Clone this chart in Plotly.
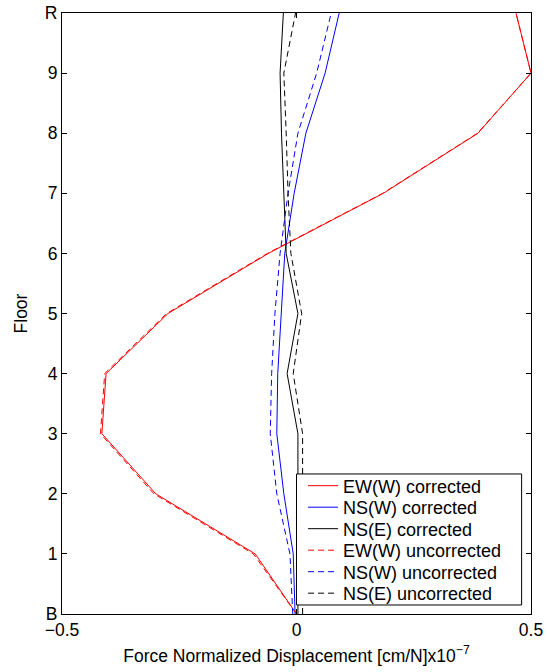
import plotly.graph_objects as go

# Floor levels (basement to roof) and their tick labels
floors = [0, 1, 2, 3, 4, 5, 6, 7, 8, 9, 10]
floor_labels = ["B", "1", "2", "3", "4", "5", "6", "7", "8", "9", "R"]

# Force-normalized displacement profiles, [cm/N] x 1e-7
ew_w_corrected = [0.0, -0.088, -0.300, -0.415, -0.406, -0.274, -0.060, 0.185, 0.387, 0.500, 0.468]
ns_w_corrected = [-0.003, -0.007, -0.027, -0.042, -0.040, -0.033, -0.025, -0.005, 0.020, 0.061, 0.091]
ns_e_corrected = [0.003, 0.003, 0.003, 0.003, -0.020, 0.003, -0.022, -0.027, -0.032, -0.035, -0.028]
ew_w_uncorrected = [0.0, -0.092, -0.304, -0.418, -0.409, -0.277, -0.062, 0.184, 0.386, 0.500, 0.468]
ns_w_uncorrected = [-0.008, -0.014, -0.042, -0.056, -0.053, -0.046, -0.035, -0.018, 0.003, 0.043, 0.074]
ns_e_uncorrected = [0.013, 0.013, 0.013, 0.013, -0.007, 0.011, -0.012, -0.018, -0.022, -0.027, -0.002]

series = [
    ("EW(W) corrected", ew_w_corrected, "#ff0000", "solid"),
    ("NS(W) corrected", ns_w_corrected, "#0000ff", "solid"),
    ("NS(E) corrected", ns_e_corrected, "#000000", "solid"),
    ("EW(W) uncorrected", ew_w_uncorrected, "#ff0000", "6px,4px"),
    ("NS(W) uncorrected", ns_w_uncorrected, "#0000ff", "6px,4px"),
    ("NS(E) uncorrected", ns_e_uncorrected, "#000000", "6px,4px"),
]

FONT = "Liberation Sans, Arial, Helvetica, sans-serif"

fig = go.Figure()
legend_ids = ["legend", "legend2", "legend3", "legend4", "legend5", "legend6"]
for (name, xs, color, dash), lg in zip(series, legend_ids):
    fig.add_trace(go.Scatter(
        x=xs, y=floors, mode="lines", name=name, showlegend=True,
        line=dict(color=color, width=1, dash=dash),
        legend=lg,
    ))

# Legend box (opaque, framed) with one row per series
box_x0, box_x1 = 0.500, 0.980
box_y0, box_y1 = 0.015, 0.233
fig.add_shape(type="rect", xref="paper", yref="paper",
              x0=box_x0, x1=box_x1, y0=box_y0, y1=box_y1,
              fillcolor="white", line=dict(color="black", width=1), layer="above")

row_top = 0.213
row_step = 21.5 / 601
legend_layouts = {}
for i, lg in enumerate(legend_ids):
    legend_layouts[lg] = dict(
        x=box_x0 + 0.014, xanchor="left",
        y=row_top - i * row_step, yanchor="middle",
        bgcolor="rgba(0,0,0,0)", borderwidth=0,
        font=dict(family=FONT, size=18, color="black"),
    )

fig.update_layout(
    width=547, height=672,
    margin=dict(l=62, r=16, t=13, b=58, autoexpand=False),
    showlegend=True,
    paper_bgcolor="white", plot_bgcolor="white",
    font=dict(family=FONT, size=17.5, color="black"),
    xaxis=dict(
        range=[-0.5, 0.5], tickvals=[-0.5, 0, 0.5], ticktext=["\u22120.5", "0", "0.5"],
        ticks="inside", ticklen=5, tickcolor="black", showgrid=False, zeroline=False,
        showline=True, linecolor="black", linewidth=1, mirror="ticks",
        title=dict(text="Force Normalized Displacement [cm/N]x10<sup>\u22127</sup>",
                   standoff=10, font=dict(size=17.5)),
    ),
    yaxis=dict(
        range=[0, 10], tickvals=floors, ticktext=floor_labels,
        ticks="inside", ticklen=5, tickcolor="black", showgrid=False, zeroline=False,
        showline=True, linecolor="black", linewidth=1, mirror="ticks",
        title=dict(text="Floor", standoff=12, font=dict(size=17.5)),
    ),
    **legend_layouts,
)

fig.write_html("out.html")
